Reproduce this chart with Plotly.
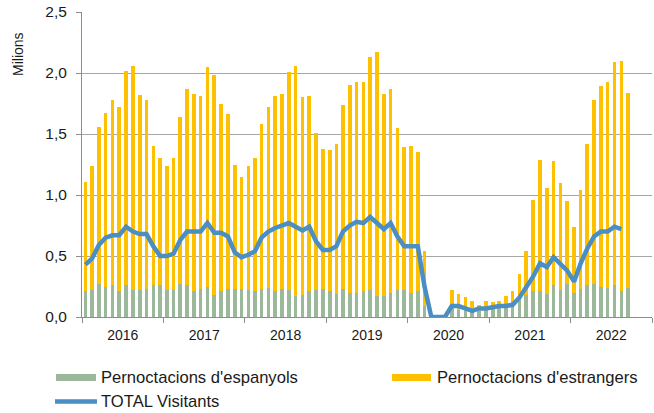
import plotly.graph_objects as go

# ---- data (millions) ----
months = [f"{y}-{m:02d}-01" for y in range(2016, 2023) for m in range(1, 13)][:81]

espanyols = [
    0.21, 0.22, 0.27, 0.25, 0.26, 0.21, 0.26, 0.22, 0.22, 0.23, 0.26, 0.26,  # 2016
    0.22, 0.22, 0.27, 0.26, 0.21, 0.23, 0.25, 0.18, 0.21, 0.23, 0.23, 0.23,  # 2017
    0.22, 0.21, 0.23, 0.24, 0.21, 0.23, 0.22, 0.17, 0.18, 0.21, 0.22, 0.23,  # 2018
    0.21, 0.19, 0.23, 0.20, 0.20, 0.21, 0.22, 0.17, 0.17, 0.20, 0.22, 0.22,  # 2019
    0.20, 0.21, 0.09, 0.00, 0.00, 0.00, 0.07, 0.06, 0.07, 0.05, 0.05, 0.06,  # 2020
    0.07, 0.08, 0.10, 0.13, 0.17, 0.18, 0.21, 0.21, 0.19, 0.26, 0.22, 0.27,  # 2021
    0.20, 0.23, 0.26, 0.27, 0.25, 0.24, 0.26, 0.21, 0.24,                    # 2022
]

estrangers = [
    0.90, 1.02, 1.29, 1.42, 1.52, 1.51, 1.76, 1.84, 1.60, 1.55, 1.14, 1.04,  # 2016
    1.02, 1.08, 1.37, 1.61, 1.62, 1.58, 1.80, 1.80, 1.54, 1.43, 1.02, 0.92,  # 2017
    1.02, 1.09, 1.35, 1.48, 1.60, 1.60, 1.79, 1.89, 1.62, 1.60, 1.29, 1.15,  # 2018
    1.16, 1.23, 1.51, 1.70, 1.73, 1.72, 1.91, 2.00, 1.66, 1.67, 1.33, 1.17,  # 2019
    1.20, 1.14, 0.45, 0.00, 0.00, 0.00, 0.15, 0.13, 0.09, 0.08, 0.05, 0.07,  # 2020
    0.05, 0.05, 0.07, 0.08, 0.18, 0.36, 0.75, 1.08, 0.87, 1.02, 0.88, 0.68,  # 2021
    0.54, 0.81, 1.16, 1.51, 1.64, 1.69, 1.83, 1.89, 1.60,                    # 2022
]

total_visitants = [
    0.43, 0.48, 0.59, 0.65, 0.67, 0.67, 0.74, 0.70, 0.68, 0.68, 0.58, 0.50,  # 2016
    0.50, 0.52, 0.63, 0.70, 0.70, 0.70, 0.77, 0.69, 0.69, 0.66, 0.53, 0.49,  # 2017
    0.51, 0.54, 0.65, 0.70, 0.73, 0.75, 0.77, 0.74, 0.71, 0.74, 0.62, 0.55,  # 2018
    0.55, 0.58, 0.70, 0.75, 0.78, 0.77, 0.82, 0.77, 0.72, 0.77, 0.66, 0.58,  # 2019
    0.58, 0.58, 0.25, 0.00, 0.00, 0.00, 0.09, 0.09, 0.07, 0.05, 0.07, 0.07,  # 2020
    0.08, 0.09, 0.09, 0.10, 0.16, 0.24, 0.33, 0.44, 0.41, 0.49, 0.43, 0.38,  # 2021
    0.29, 0.44, 0.56, 0.66, 0.70, 0.70, 0.74, 0.72,                          # 2022
]

y_ticks = [0, 0.5, 1.0, 1.5, 2.0, 2.5]

series_names = ["Pernoctacions d'espanyols", "Pernoctacions d'estrangers", "TOTAL Visitants"]
colors = ["#9BB89B", "#FFC000", "#4A8EC4"]

FONT = "Liberation Sans, Arial, sans-serif"
TXT = "#1a1a1a"

fig = go.Figure()
fig.add_trace(go.Bar(x=months, y=espanyols, name=series_names[0],
                     marker=dict(color=colors[0], line=dict(width=0)),
                     xperiod="M1", xperiodalignment="middle", showlegend=False))
fig.add_trace(go.Bar(x=months, y=estrangers, name=series_names[1],
                     marker=dict(color=colors[1], line=dict(width=0)),
                     xperiod="M1", xperiodalignment="middle", showlegend=False))
fig.add_trace(go.Scatter(x=months[:len(total_visitants)], y=total_visitants, name=series_names[2],
                         mode="lines", line=dict(color=colors[2], width=4.5),
                         xperiod="M1", xperiodalignment="middle", showlegend=False))

L, R, T, B = 82, 2, 12, 96
W, H = 654, 413
pw, ph = W - L - R, H - T - B

def px_x(p):
    return (p - L) / pw

def px_y(p):
    return (H - B - p) / ph

fig.update_layout(
    width=W, height=H,
    margin=dict(l=L, r=R, t=T, b=B),
    paper_bgcolor="white", plot_bgcolor="white",
    barmode="stack", bargap=0.45,
    separators=",.",
    font=dict(family=FONT, color=TXT),
    xaxis=dict(
        type="date",
        range=["2016-01-01", "2023-01-01"],
        dtick="M12", tick0="2016-01-01",
        ticklabelmode="period",
        tickformat="%Y",
        ticks="outside", ticklen=5, tickcolor="#8c8c8c",
        showgrid=False, showline=True, linecolor="#8c8c8c", linewidth=1,
        tickfont=dict(size=14, color=TXT, family=FONT),
    ),
    yaxis=dict(
        range=[0, 2.5], tickvals=y_ticks, tickformat=".1f",
        showgrid=True, gridcolor="#a6a6a6", gridwidth=1,
        showline=True, linecolor="#8c8c8c", linewidth=1,
        ticks="outside", ticklen=5, tickcolor="#8c8c8c",
        ticklabelstandoff=6,
        zeroline=False,
        tickfont=dict(size=15.5, color=TXT, family=FONT),
    ),
)

# y-axis title
fig.add_annotation(text="Milions", xref="paper", yref="paper",
                   x=px_x(18), y=px_y(54), textangle=-90, showarrow=False,
                   xanchor="center", yanchor="middle",
                   font=dict(size=14, color=TXT, family=FONT))

# manual legend
leg_font = dict(size=16.6, color=TXT, family=FONT)
fig.add_shape(type="rect", xref="paper", yref="paper",
              x0=px_x(56), x1=px_x(96), y0=px_y(381), y1=px_y(374),
              fillcolor=colors[0], line=dict(width=0))
fig.add_annotation(text=series_names[0], xref="paper", yref="paper",
                   x=px_x(99), y=px_y(377.5), xanchor="left", yanchor="middle",
                   showarrow=False, font=leg_font)
fig.add_shape(type="rect", xref="paper", yref="paper",
              x0=px_x(392), x1=px_x(431), y0=px_y(381), y1=px_y(374),
              fillcolor=colors[1], line=dict(width=0))
fig.add_annotation(text=series_names[1], xref="paper", yref="paper",
                   x=px_x(435), y=px_y(377.5), xanchor="left", yanchor="middle",
                   showarrow=False, font=leg_font)
fig.add_shape(type="line", xref="paper", yref="paper",
              x0=px_x(55), x1=px_x(97), y0=px_y(401.5), y1=px_y(401.5),
              line=dict(color=colors[2], width=4.5))
fig.add_annotation(text=series_names[2], xref="paper", yref="paper",
                   x=px_x(99), y=px_y(401.5), xanchor="left", yanchor="middle",
                   showarrow=False, font=leg_font)

fig.write_html("out.html",
               config={"displayModeBar": False},
               post_script="document.body.style.margin='0';document.body.style.overflow='hidden';")
